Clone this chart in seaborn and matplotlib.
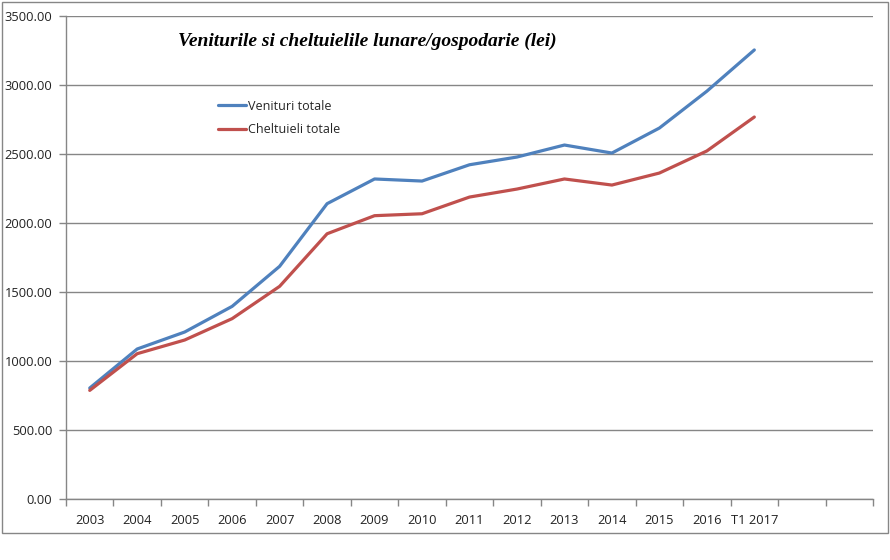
import numpy as np
import pandas as pd
import seaborn as sns
import matplotlib.pyplot as plt
from matplotlib.patches import Rectangle
from matplotlib.ticker import MultipleLocator, FixedLocator

# data (lei per household per month)
periods = ["2003", "2004", "2005", "2006", "2007", "2008", "2009", "2010",
           "2011", "2012", "2013", "2014", "2015", "2016", "T1 2017"]
venituri = [804, 1087, 1210, 1396, 1686, 2140, 2319, 2304,
            2422, 2478, 2565, 2507, 2688, 2955, 3254]
cheltuieli = [787, 1053, 1152, 1307, 1541, 1922, 2053, 2067,
              2188, 2246, 2319, 2275, 2362, 2522, 2768]
series_names = ["Venituri totale", "Cheltuieli totale"]
title = "Veniturile si cheltuielile lunare/gospodarie (lei)"

df = pd.DataFrame({
    "perioada": periods * 2,
    "valoare": venituri + cheltuieli,
    "serie": [series_names[0]] * len(periods) + [series_names[1]] * len(periods),
})

sns.set_theme(style="white")
plt.rcParams["font.family"] = ["Open Sans", "DejaVu Sans"]

fig = plt.figure(figsize=(8.9, 5.6), dpi=100)
ax = fig.add_axes([66 / 890, 61 / 560, 807 / 890, 483 / 560])

sns.lineplot(data=df, x="perioada", y="valoare", hue="serie", sort=False,
             palette=["#4F81BD", "#C0504D"], linewidth=2.3, ax=ax, legend=True)

grid_col = "#868686"
ax.set_ylim(0, 3500)
ax.set_xlim(-0.5, len(periods) + 1.5)
ax.yaxis.set_major_locator(MultipleLocator(500))
ax.set_yticklabels([f"{v:.2f}" for v in ax.get_yticks()])
ax.grid(axis="y", color=grid_col, linewidth=1)
ax.set_axisbelow(True)

ax.set_xticks(range(len(periods)))
ax.set_xticklabels(periods)
ax.xaxis.set_minor_locator(FixedLocator(np.arange(-0.5, len(periods) + 2, 1)))
ax.tick_params(axis="x", which="major", length=0, pad=11, labelsize=9.3, colors="#222222")
ax.tick_params(axis="x", which="minor", length=5, width=1, color=grid_col, direction="out", bottom=True)
ax.tick_params(axis="y", which="major", length=5, width=1, color=grid_col, direction="out",
               left=True, pad=5, labelsize=9.3, colors="#222222")

for side in ["top", "right"]:
    ax.spines[side].set_visible(False)
for side in ["left", "bottom"]:
    ax.spines[side].set_color(grid_col)
    ax.spines[side].set_linewidth(1)

ax.set_xlabel("")
ax.set_ylabel("")

leg = ax.legend(loc="upper left", bbox_to_anchor=(0.175, 0.85), frameon=False,
                fontsize=9, handlelength=2.2, handletextpad=0.2, labelspacing=0.85)
for line in leg.get_lines():
    line.set_linewidth(2.3)

fig.text(178 / 890, 1 - 41 / 560, title, family="Liberation Serif", style="italic",
         weight="bold", fontsize=14, va="center", ha="left", color="black")

# chart area border
fig.patches.append(Rectangle((2 / 890, 1 - 533 / 560), 886 / 890, 531 / 560,
                             transform=fig.transFigure, fill=False,
                             edgecolor=grid_col, linewidth=1))

fig.savefig("out.png", dpi=100)
